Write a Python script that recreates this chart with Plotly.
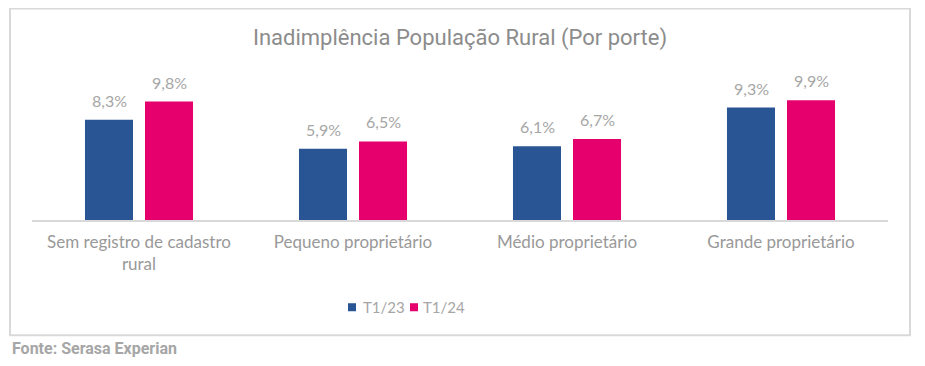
import plotly.graph_objects as go

categories = ["Sem registro de cadastro<br>rural", "Pequeno proprietário", "Médio proprietário", "Grande proprietário"]
series_names = ["T1/23", "T1/24"]
t1_23 = [8.3, 5.9, 6.1, 9.3]
t1_24 = [9.8, 6.5, 6.7, 9.9]
colors = ["#2A5595", "#E6006E"]

OFF = 8  # page body margin
W, H = 925 - OFF, 366 - OFF
L, R, T, B = 32 - OFF, 888 - OFF, 75.4 - OFF, 220 - OFF
pw, ph = R - L, B - T

def px(x):
    return (x - OFF - L) / pw

def py(y):
    return (B - (y - OFF)) / ph

fig = go.Figure()
for name, vals, col in zip(series_names, [t1_23, t1_24], colors):
    fig.add_trace(go.Bar(x=categories, y=vals, name=name, marker_color=col,
                         marker_line_width=0, hoverinfo="skip", showlegend=False))

annotations = []
for vals, shift in [(t1_23, -30), (t1_24, 30)]:
    for c, v in zip(categories, vals):
        annotations.append(dict(x=c, y=v, xref="x", yref="y", text=f"{v:.1f}%".replace(".", ","),
                                showarrow=False, xshift=shift, yanchor="bottom", yshift=8,
                                font=dict(family="Lato", size=16, color="#A6A6A6")))

annotations.append(dict(text="Fonte: Serasa Experian", xref="paper", yref="paper",
                        x=px(10), y=py(348), xanchor="left", yanchor="middle", showarrow=False,
                        font=dict(family="Roboto", size=16, color="#A6A6A6", weight="bold")))

shapes = [dict(type="rect", xref="paper", yref="paper", x0=px(10), x1=px(910), y0=py(9), y1=py(335),
               line=dict(color="#D9D9D9", width=2), layer="below")]

# legend (manual)
leg_sq_x = [348, 410]
leg_tx_x = [361, 421]
for name, col, sx, tx in zip(series_names, colors, leg_sq_x, leg_tx_x):
    shapes.append(dict(type="rect", xref="paper", yref="paper", x0=px(sx), x1=px(sx + 8),
                       y0=py(303), y1=py(311), fillcolor=col, line=dict(width=0)))
    annotations.append(dict(text=name, xref="paper", yref="paper", x=px(tx), y=py(307),
                            xanchor="left", yanchor="middle", showarrow=False,
                            font=dict(family="Lato", size=15, color="#A6A6A6")))

fig.update_layout(
    width=W, height=H,
    margin=dict(l=L, r=W - R, t=T, b=H - B),
    paper_bgcolor="white", plot_bgcolor="white",
    barmode="group", bargap=0.439, bargroupgap=0.2,
    title=dict(text="Inadimplência População Rural (Por porte)", x=px(460), xanchor="center",
               xref="paper", y=1 - (37 - OFF) / H, yanchor="middle", yref="container",
               font=dict(family="Roboto", size=22, color="#8C8C8C")),
    xaxis=dict(showline=True, linecolor="#D9D9D9", linewidth=1.5, ticks="",
               tickfont=dict(family="Lato", size=17, color="#999999"), fixedrange=True,
               ticklabelstandoff=6),
    yaxis=dict(range=[0, 12], visible=False, showgrid=False, zeroline=False, fixedrange=True),
    annotations=annotations,
    shapes=shapes,
    showlegend=False,
)

fig.write_html("out.html")
